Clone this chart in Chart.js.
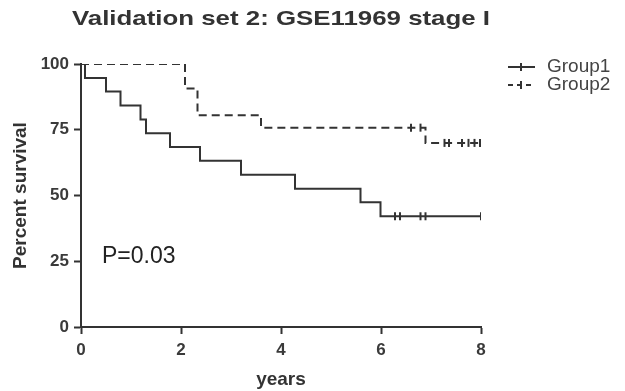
<!DOCTYPE html>
<html>
<head>
<meta charset="utf-8">
<script src="https://cdn.jsdelivr.net/npm/chart.js@4/dist/chart.umd.min.js"></script>
<style>
html,body{margin:0;padding:0;background:#fff;}
#wrap{width:625px;height:391px;position:relative;}
</style>
</head>
<body>
<div id="wrap"><canvas id="c" width="625" height="391"></canvas></div>
<script>
// ---- data ----
const chartTitle = "Validation set 2: GSE11969 stage I";
const seriesNames = ["Group1", "Group2"];
const xTickValues = [0, 2, 4, 6, 8];
const yTickValues = [0, 25, 50, 75, 100];

const g1Times = [0, 0.08, 0.5, 0.79, 1.19, 1.3, 1.78, 2.38, 3.2, 4.28, 5.59, 5.99, 8.0];
const g1Surv  = [100, 94.7, 89.5, 84.2, 78.9, 73.7, 68.4, 63.2, 57.9, 52.6, 47.4, 42.1, 42.1];
const g1CensorTimes = [6.28, 6.38, 6.79, 6.89, 8.0];
const g1CensorSurv  = [42.1, 42.1, 42.1, 42.1, 42.1];

const g2Times = [0, 2.08, 2.33, 3.6, 6.89, 8.0];
const g2Surv  = [100, 90.7, 80.5, 75.8, 70.0, 70.0];
const g2CensorTimes = [6.6, 6.79, 7.27, 7.36, 7.62, 7.75, 7.87, 7.98];
const g2CensorSurv  = [75.8, 75.8, 70.0, 70.0, 70.0, 70.0, 70.0, 70.0];

const pValueText = "P=0.03";

// ---- build chart ----
const ink = "#333333";
const toPts = (xs, ys) => xs.map((x, i) => ({x: x, y: ys[i]}));

const overlay = {
  id: "overlay",
  afterDraw(chart) {
    const ctx = chart.ctx;
    ctx.save();
    // title (stretched to reference width)
    ctx.fillStyle = ink;
    ctx.font = "bold 21px 'Liberation Sans', Arial, sans-serif";
    ctx.textBaseline = "middle";
    ctx.textAlign = "left";
    const w = ctx.measureText(chartTitle).width;
    const target = 418;
    ctx.save();
    ctx.translate(72, 19);
    ctx.scale(target / w, 1);
    ctx.fillText(chartTitle, 0, 0);
    ctx.restore();

    // P value
    ctx.font = "23px 'Liberation Sans', Arial, sans-serif";
    ctx.fillStyle = "#222";
    ctx.fillText(pValueText, 102, 257);

    // legend
    const rows = [{y: 67, dash: []}, {y: 85, dash: [5, 4]}];
    ctx.font = "19px 'Liberation Sans', Arial, sans-serif";
    rows.forEach((r, i) => {
      ctx.strokeStyle = ink;
      ctx.lineWidth = 2;
      ctx.setLineDash(r.dash);
      ctx.beginPath();
      ctx.moveTo(508, r.y);
      ctx.lineTo(535, r.y);
      ctx.stroke();
      ctx.setLineDash([]);
      ctx.beginPath();
      ctx.moveTo(521, r.y - 4);
      ctx.lineTo(521, r.y + 4);
      ctx.stroke();
      ctx.fillStyle = "#444";
      ctx.fillText(seriesNames[i], 547, r.y);
    });
    ctx.restore();
  }
};

new Chart(document.getElementById("c"), {
  type: "line",
  data: {
    datasets: [
      {label: seriesNames[0], data: toPts(g1Times, g1Surv), stepped: "before",
       borderColor: ink, borderWidth: 2, pointRadius: 0, fill: false},
      {label: seriesNames[1], data: toPts(g2Times, g2Surv), stepped: "before",
       borderColor: ink, borderWidth: 2, borderDash: [8, 5], pointRadius: 0, fill: false},
      {label: seriesNames[0] + " censored", type: "scatter", data: toPts(g1CensorTimes, g1CensorSurv),
       pointStyle: "line", rotation: 90, pointRadius: 4, borderColor: ink, borderWidth: 2, showLine: false},
      {label: seriesNames[1] + " censored", type: "scatter", data: toPts(g2CensorTimes, g2CensorSurv),
       pointStyle: "line", rotation: 90, pointRadius: 4, borderColor: ink, borderWidth: 2, showLine: false}
    ]
  },
  options: {
    responsive: false,
    animation: false,
    layout: {padding: {top: 64, right: 144, left: 0, bottom: 0}},
    plugins: {legend: {display: false}, tooltip: {enabled: false}, title: {display: false}},
    scales: {
      x: {
        type: "linear", min: 0, max: 8,
        afterBuildTicks: s => { s.ticks = xTickValues.map(v => ({value: v})); },
        afterFit: s => { s.height = 64; },
        grid: {drawOnChartArea: false, drawTicks: true, tickLength: 7, tickWidth: 2, tickColor: ink},
        border: {display: true, color: ink, width: 2},
        ticks: {color: "#3a3a3a", font: {family: "'Liberation Sans', Arial", size: 17, weight: "bold"}, padding: 6, maxRotation: 0},
        title: {display: true, text: "years", color: ink, padding: {top: 0, bottom: 2},
                font: {family: "'Liberation Sans', Arial", size: 19, weight: "bold", lineHeight: 1}}
      },
      y: {
        type: "linear", min: 0, max: 100,
        afterBuildTicks: s => { s.ticks = yTickValues.map(v => ({value: v})); },
        afterFit: s => { s.width = 81; },
        grid: {drawOnChartArea: false, drawTicks: true, tickLength: 7, tickWidth: 2, tickColor: ink},
        border: {display: true, color: ink, width: 2},
        ticks: {color: "#3a3a3a", font: {family: "'Liberation Sans', Arial", size: 17, weight: "bold"}, padding: 5},
        title: {display: true, text: "Percent survival", color: ink, padding: {top: 11, bottom: 0},
                font: {family: "'Liberation Sans', Arial", size: 19, weight: "bold", lineHeight: 1}}
      }
    }
  },
  plugins: [overlay]
});
</script>
</body>
</html>
